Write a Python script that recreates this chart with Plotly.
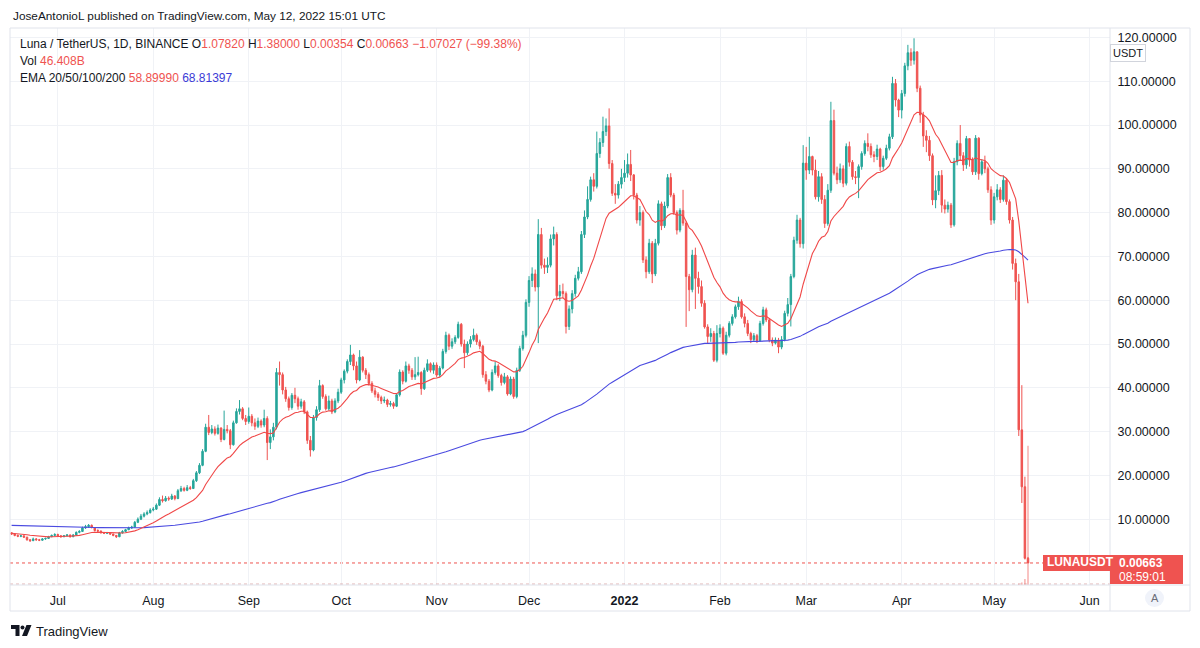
import plotly.graph_objects as go
import pandas as pd

# ---------------- DATA ----------------
start_date = "2021-06-16"
end_date = "2022-05-12"
first_open = 6.9

close_jun = [6.6, 6.3, 6.1, 6.2, 5.9, 5.3, 5.1, 5.5, 5.3, 5.2, 5.5, 5.6, 6.0, 6.3, 6.5]
high_jun = [7.0, 6.8, 6.5, 6.4, 6.3, 6.0, 5.5, 5.8, 5.7, 5.5, 5.7, 5.8, 6.2, 6.5, 6.8]
low_jun = [6.4, 6.1, 5.9, 5.9, 5.7, 5.1, 4.8, 5.0, 5.1, 5.0, 5.1, 5.3, 5.5, 5.9, 6.1]

close_jul = [6.2, 6.0, 6.2, 6.4, 6.0, 6.4, 7.0, 7.2, 8.0, 8.3, 8.6, 8.1, 7.4, 7.3, 6.9, 6.8,
             6.9, 6.6, 6.3, 6.0, 6.9, 7.2, 7.6, 8.0, 8.2, 9.3, 10.0, 10.7, 11.2, 11.5, 12.1]
high_jul = [6.7, 6.4, 6.4, 6.6, 6.5, 6.6, 7.2, 7.5, 8.3, 8.7, 8.9, 8.8, 8.2, 7.7, 7.4, 7.1,
            7.1, 7.0, 6.7, 6.4, 7.1, 7.5, 7.8, 8.3, 8.5, 9.6, 10.4, 11.2, 11.6, 12.0, 12.5]
low_jul = [6.0, 5.8, 5.9, 6.1, 5.8, 5.9, 6.3, 6.8, 7.1, 7.8, 8.0, 7.9, 7.2, 7.0, 6.7, 6.6,
           6.6, 6.4, 6.1, 5.7, 5.9, 6.7, 7.0, 7.5, 7.8, 8.1, 9.1, 9.8, 10.4, 10.9, 11.3]

close_aug = [12.3, 13.2, 14.5, 14.2, 14.8, 14.6, 15.3, 14.7, 16.5, 17.0, 16.6, 17.2, 17.0, 18.8,
             20.6, 22.3, 25.5, 31.0, 29.8, 30.6, 29.6, 30.8, 28.2, 30.5, 30.2, 27.0, 32.0, 34.6,
             35.2, 33.0, 32.3]
high_aug = [12.8, 13.6, 15.0, 15.4, 15.3, 15.2, 15.8, 15.5, 16.9, 17.6, 17.4, 17.8, 17.6, 19.2,
            21.0, 22.8, 26.0, 31.8, 33.8, 31.5, 31.2, 31.6, 31.0, 34.8, 31.5, 30.6, 32.5, 35.3,
            37.2, 35.6, 33.8]
low_aug = [11.8, 12.1, 13.0, 13.8, 14.0, 14.2, 14.4, 14.3, 14.6, 16.2, 16.3, 16.4, 16.7, 16.9,
           18.5, 20.3, 22.1, 25.3, 29.2, 29.4, 29.1, 29.3, 27.6, 28.0, 29.6, 26.0, 26.8, 31.8,
           33.9, 32.6, 31.5]

close_sep = [33.5, 32.0, 31.2, 32.4, 31.5, 33.0, 27.5, 28.8, 31.0, 43.5, 43.0, 39.5, 37.5, 35.5,
             38.3, 37.5, 35.8, 36.8, 34.5, 28.0, 25.8, 33.2, 35.0, 40.5, 38.0, 35.2, 37.0, 34.5,
             37.0, 39.0]
high_sep = [35.5, 34.0, 33.0, 33.2, 32.8, 35.0, 33.5, 30.5, 32.0, 44.5, 46.0, 43.5, 40.2, 38.0,
            38.8, 40.0, 38.0, 37.5, 37.2, 34.8, 29.0, 33.8, 35.8, 41.8, 40.8, 38.5, 38.2, 37.5,
            37.6, 39.8]
low_sep = [31.8, 31.2, 30.4, 30.8, 30.9, 31.0, 23.5, 26.0, 28.0, 30.5, 40.5, 38.5, 36.8, 34.8,
           35.0, 36.5, 35.0, 35.2, 34.0, 27.2, 24.3, 25.5, 32.5, 34.5, 37.5, 34.8, 34.8, 34.0,
           34.2, 36.5]

close_oct = [41.8, 43.8, 46.0, 47.5, 45.0, 41.8, 47.0, 44.0, 43.0, 41.0, 39.3, 38.5, 37.8, 37.0,
             37.2, 36.2, 36.4, 35.8, 38.4, 43.6, 41.5, 45.0, 44.0, 42.5, 43.0, 43.5, 39.8, 44.0,
             45.5, 44.0, 45.2]
high_oct = [42.3, 44.2, 46.5, 49.8, 47.8, 46.0, 48.6, 47.2, 44.5, 43.5, 41.5, 40.0, 39.0, 38.2,
            38.0, 37.5, 37.0, 36.8, 38.8, 44.2, 44.0, 46.0, 45.5, 44.5, 47.0, 47.1, 43.8, 44.6,
            46.5, 45.8, 45.8]
low_oct = [38.6, 41.0, 43.3, 45.2, 44.0, 41.0, 41.5, 43.5, 42.0, 40.5, 38.8, 37.8, 37.0, 36.3,
           36.5, 35.6, 35.7, 35.2, 35.6, 38.0, 40.8, 41.2, 43.2, 41.8, 41.8, 42.6, 38.4, 39.5,
           43.6, 43.5, 43.2]

close_nov = [42.9, 44.5, 48.3, 52.0, 49.5, 50.5, 51.5, 54.5, 50.0, 48.0, 50.0, 51.0, 52.0, 50.5,
             49.5, 43.0, 41.5, 39.5, 43.5, 45.0, 42.8, 41.2, 42.5, 38.6, 42.0, 38.0, 44.0, 49.0,
             52.0, 59.5]
high_nov = [45.8, 45.0, 48.9, 52.8, 52.4, 51.3, 52.0, 55.1, 54.8, 51.0, 50.6, 51.8, 53.5, 52.4,
            51.0, 49.8, 43.8, 42.0, 44.2, 46.0, 45.4, 43.2, 43.4, 42.9, 42.6, 42.5, 44.6, 49.6,
            53.0, 60.2]
low_nov = [42.4, 42.5, 44.2, 47.8, 48.6, 48.9, 50.0, 51.2, 49.4, 44.5, 47.5, 49.2, 50.6, 49.8,
           48.8, 42.3, 40.8, 39.0, 39.2, 43.0, 42.3, 40.5, 40.8, 38.2, 38.3, 37.5, 37.6, 43.6,
           48.5, 51.5]

close_dec = [64.5, 66.0, 63.0, 75.0, 68.0, 67.5, 68.0, 74.0, 75.0, 61.0, 62.0, 61.5, 54.0, 58.0,
             61.5, 65.0, 66.5, 75.0, 79.0, 83.0, 87.5, 86.0, 93.5, 96.0, 98.5, 99.8, 91.2, 84.4,
             84.0, 86.5, 88.0]
high_dec = [65.5, 67.5, 67.0, 78.5, 76.5, 69.5, 69.8, 75.0, 76.8, 75.5, 63.5, 63.8, 62.0, 58.8,
            62.3, 65.8, 67.6, 75.8, 80.5, 86.0, 88.2, 89.0, 98.5, 97.0, 101.9, 101.5, 103.8, 92.0,
            86.5, 87.2, 90.0]
low_dec = [58.5, 63.0, 62.0, 50.2, 67.2, 66.0, 66.2, 67.5, 72.5, 60.0, 59.8, 60.5, 52.4, 53.2,
           57.0, 60.8, 64.5, 66.0, 74.2, 78.5, 82.5, 84.8, 85.5, 92.5, 95.0, 97.5, 90.0, 83.8,
           82.0, 83.2, 85.5]

close_jan = [89.0, 91.0, 88.6, 84.0, 78.3, 80.0, 69.2, 66.5, 73.0, 66.0, 73.0, 82.0, 77.0, 81.5,
             88.0, 84.0, 80.0, 76.0, 80.5, 77.6, 65.4, 62.4, 70.3, 65.0, 63.1, 59.3, 53.9, 51.7,
             52.4, 46.3, 52.4]
high_jan = [92.0, 93.5, 94.3, 88.8, 84.5, 81.5, 80.5, 70.0, 74.0, 73.5, 74.0, 82.8, 82.5, 82.5,
            88.8, 89.0, 84.5, 80.5, 81.0, 85.2, 78.0, 66.0, 71.5, 72.0, 66.5, 64.5, 60.0, 54.5,
            53.6, 53.0, 54.3]
low_jan = [87.0, 88.0, 87.2, 83.0, 77.5, 77.0, 68.5, 65.0, 66.0, 63.9, 65.5, 72.5, 76.0, 76.5,
           81.0, 83.5, 79.5, 75.0, 75.5, 77.0, 53.9, 57.5, 61.8, 58.0, 61.5, 58.5, 53.5, 50.0,
           50.5, 45.9, 45.8]

close_feb = [53.6, 47.9, 52.0, 54.7, 56.2, 58.5, 59.7, 56.2, 54.7, 52.4, 51.0, 51.9, 50.8, 54.7,
             57.8, 55.5, 50.9, 50.2, 50.9, 49.3, 51.0, 57.0, 59.0, 65.4, 73.7, 78.3, 72.9, 91.3]
high_feb = [54.5, 54.0, 52.8, 55.2, 56.8, 59.0, 60.8, 60.2, 57.0, 55.5, 52.8, 52.5, 52.3, 55.3,
            58.5, 58.3, 55.9, 51.5, 51.5, 51.4, 51.8, 57.6, 60.5, 66.0, 74.5, 79.5, 78.8, 95.4]
low_feb = [51.5, 47.5, 47.4, 51.5, 54.2, 55.8, 57.8, 55.8, 53.8, 51.8, 50.2, 50.5, 50.2, 50.5,
           54.2, 55.0, 50.4, 49.5, 49.9, 47.9, 48.8, 50.6, 56.3, 54.0, 65.0, 72.9, 72.0, 71.8]

close_mar = [89.7, 92.8, 89.7, 83.6, 88.2, 83.0, 77.5, 85.1, 101.0, 89.0, 87.5, 90.0, 86.7, 95.1,
             91.5, 88.2, 88.0, 90.5, 93.5, 95.8, 95.1, 93.2, 92.8, 94.5, 90.5, 92.4, 94.7, 97.3,
             109.5, 105.7, 103.4]
high_mar = [95.0, 97.3, 93.0, 92.1, 89.5, 89.0, 84.0, 86.5, 105.3, 103.5, 90.5, 91.2, 90.8, 95.8,
            96.2, 92.0, 89.5, 91.0, 94.0, 96.5, 98.1, 95.8, 94.0, 95.5, 94.8, 93.0, 95.5, 98.0,
            111.0, 110.5, 106.0]
low_mar = [87.5, 88.8, 88.5, 83.0, 82.5, 82.0, 76.5, 77.0, 84.5, 88.5, 86.5, 86.8, 85.8, 86.2,
           90.5, 87.5, 86.5, 83.3, 89.8, 93.0, 94.0, 92.5, 91.5, 92.0, 89.5, 89.8, 92.0, 94.2,
           96.8, 104.2, 101.8]

close_apr = [107.2, 113.5, 116.5, 114.8, 116.7, 108.4, 102.3, 97.5, 96.5, 93.0, 82.9, 85.0, 88.5,
             81.7, 80.8, 81.7, 77.2, 91.6, 95.8, 93.0, 90.9, 96.9, 92.0, 89.3, 97.0, 88.9, 91.6,
             90.0, 85.2, 78.3]
high_apr = [108.0, 114.2, 118.3, 117.5, 119.8, 116.8, 109.0, 103.0, 98.8, 97.5, 93.5, 88.5, 89.5,
            89.7, 83.0, 82.5, 82.2, 92.5, 96.5, 100.0, 93.8, 97.5, 97.0, 92.6, 97.7, 97.2, 92.2,
            93.0, 90.5, 86.0]
low_apr = [101.5, 106.5, 112.5, 113.5, 113.8, 107.5, 100.5, 95.0, 93.8, 91.8, 81.7, 81.0, 84.0,
           80.0, 79.8, 80.0, 76.5, 76.8, 90.8, 92.0, 89.5, 90.0, 90.5, 88.6, 88.6, 87.5, 88.5,
           89.0, 84.5, 77.2]

close_may = [83.6, 85.2, 83.0, 87.4, 82.5, 78.3, 68.4, 64.2, 30.4, 17.4, 1.0782, 0.00663]
high_may = [84.5, 86.5, 85.8, 88.5, 87.8, 83.0, 79.0, 69.5, 66.0, 40.6, 19.7, 1.38]
low_may = [77.5, 82.8, 82.2, 82.5, 81.8, 77.5, 67.0, 60.0, 29.0, 13.7, 0.8, 0.00354]

# indicator starting values read at the left edge of the chart
ema20_start = 6.8
ema200_start = 8.6

# volume (billions LUNA) for the last days; earlier bars are near zero height
vol_dates = ["2022-05-09", "2022-05-10", "2022-05-11", "2022-05-12"]
vol_billions = [0.4, 0.8, 2.0, 46.408]

month_ticks = ["2021-07-01", "2021-08-01", "2021-09-01", "2021-10-01", "2021-11-01",
               "2021-12-01", "2022-01-01", "2022-02-01", "2022-03-01", "2022-04-01",
               "2022-05-01", "2022-06-01"]
month_labels = ["Jul", "Aug", "Sep", "Oct", "Nov", "Dec", "<b>2022</b>", "Feb", "Mar", "Apr",
                "May", "Jun"]
price_ticks = [10, 20, 30, 40, 50, 60, 70, 80, 90, 100, 110, 120]

# ---------------- assemble ----------------
closes = (close_jun + close_jul + close_aug + close_sep + close_oct + close_nov + close_dec +
          close_jan + close_feb + close_mar + close_apr + close_may)
highs = (high_jun + high_jul + high_aug + high_sep + high_oct + high_nov + high_dec +
         high_jan + high_feb + high_mar + high_apr + high_may)
lows = (low_jun + low_jul + low_aug + low_sep + low_oct + low_nov + low_dec +
        low_jan + low_feb + low_mar + low_apr + low_may)
dates = pd.date_range(start_date, end_date, freq="D")
opens = [first_open] + closes[:-1]   # daily crypto candles open at prior close


def ema(values, start, n):
    a = 2.0 / (n + 1)
    out = [start]
    for v in values[1:]:
        out.append(a * v + (1 - a) * out[-1])
    return out


ema20 = ema(closes, ema20_start, 20)
ema200 = ema(closes, ema200_start, 200)

# ---------------- layout geometry (pixels) ----------------
W, H = 1200, 648
PL, PR, PT, PB = 10, 1110, 28, 585
JUL1_PX, PX_PER_DAY = 57.8, 3.08
PX_PER_UNIT, ZERO_PX = 4.38, 563.0


def fx(px):
    return (px - PL) / (PR - PL)


def fy(py):
    return (PB - py) / (PB - PT)


jul1 = pd.Timestamp("2021-07-01")
x_lo = jul1 + pd.Timedelta(days=(PL - JUL1_PX) / PX_PER_DAY)
x_hi = jul1 + pd.Timedelta(days=(PR - JUL1_PX) / PX_PER_DAY)
y_hi = (ZERO_PX - PT) / PX_PER_UNIT
y_lo = (ZERO_PX - PB) / PX_PER_UNIT

FONT = "Liberation Sans"
TXT = "#131722"
RED = "#ef5350"
GREEN = "#26a69a"
BLUE = "#4a4ae0"
GRID = "#f0f2f6"
BORDER = "#e0e3eb"

fig = go.Figure()

fig.add_trace(go.Bar(
    x=vol_dates, y=vol_billions, yaxis="y2",
    marker=dict(color="rgba(239,83,80,0.5)", line=dict(width=0)),
    width=86400000 * 0.45, hoverinfo="skip", showlegend=False))

fig.add_trace(go.Scatter(x=dates, y=ema200, mode="lines",
                         line=dict(color=BLUE, width=1.1), hoverinfo="skip", showlegend=False))
fig.add_trace(go.Scatter(x=dates, y=ema20, mode="lines",
                         line=dict(color="#f04848", width=1.1), hoverinfo="skip", showlegend=False))

fig.add_trace(go.Candlestick(
    x=dates, open=opens, high=highs, low=lows, close=closes,
    increasing=dict(line=dict(color=GREEN, width=1), fillcolor=GREEN),
    decreasing=dict(line=dict(color=RED, width=1), fillcolor=RED),
    whiskerwidth=0, hoverinfo="skip", showlegend=False))

shapes = []
# price line
shapes.append(dict(type="line", xref="paper", yref="y", x0=0, x1=1, y0=closes[-1], y1=closes[-1],
                   line=dict(color=RED, width=1, dash="dot"), layer="below"))
# volume baseline dots
shapes.append(dict(type="line", xref="paper", yref="paper", x0=0, x1=1, y0=fy(584), y1=fy(584),
                   line=dict(color="rgba(200,120,120,0.55)", width=1, dash="dot")))
# frame
shapes.append(dict(type="rect", xref="paper", yref="paper", x0=fx(10), x1=fx(1190),
                   y0=fy(611), y1=fy(PT), line=dict(color=BORDER, width=1)))
shapes.append(dict(type="line", xref="paper", yref="paper", x0=fx(PR), x1=fx(PR),
                   y0=fy(611), y1=fy(PT), line=dict(color=BORDER, width=1)))
shapes.append(dict(type="line", xref="paper", yref="paper", x0=fx(10), x1=fx(1190),
                   y0=fy(PB), y1=fy(PB), line=dict(color=BORDER, width=1)))
# last price labels
shapes.append(dict(type="rect", xref="paper", yref="paper", x0=fx(1043), x1=fx(1110),
                   y0=fy(571), y1=fy(555), fillcolor=RED, line=dict(width=0), layer="above"))
shapes.append(dict(type="rect", xref="paper", yref="paper", x0=fx(1110), x1=fx(1183),
                   y0=fy(584), y1=fy(555), fillcolor=RED, line=dict(width=0), layer="above"))
# auto-scale button
shapes.append(dict(type="circle", xref="paper", yref="paper", x0=fx(1145), x1=fx(1164),
                   y0=fy(607), y1=fy(589), fillcolor="#f0f3fa", line=dict(width=0)))
# TradingView logo mark
shapes.append(dict(type="path", xref="paper", yref="paper",
                   path=("M {a},{b} L {c},{b} L {c},{d} L {e},{d} L {e},{f} L {a},{f} Z").format(
                       a=fx(11), b=fy(625), c=fx(19.5), d=fy(636), e=fx(15.5), f=fy(629)),
                   fillcolor=TXT, line=dict(width=0)))
shapes.append(dict(type="circle", xref="paper", yref="paper", x0=fx(20.5), x1=fx(24.5),
                   y0=fy(629.5), y1=fy(625.5), fillcolor=TXT, line=dict(width=0)))
shapes.append(dict(type="path", xref="paper", yref="paper",
                   path="M {0},{1} L {2},{1} L {3},{4} L {5},{4} Z".format(
                       fx(26.5), fy(625), fx(31.5), fx(27), fy(636), fx(22)),
                   fillcolor=TXT, line=dict(width=0)))

ann = []


def txt(x, y, s, size=12, color=TXT, xanchor="left", **kw):
    ann.append(dict(x=fx(x), y=fy(y), xref="paper", yref="paper", text=s, showarrow=False,
                    xanchor=xanchor, yanchor="middle",
                    font=dict(family=FONT, size=size, color=color), **kw))


def red(s):
    return '<span style="color:%s">%s</span>' % (RED, s)


txt(11, 15.5, "JoseAntonioL published on TradingView.com, May 12, 2022 15:01 UTC", size=11.8)
txt(18, 44, "Luna / TetherUS, 1D, BINANCE O" + red("1.07820") + " H" + red("1.38000") +
    " L" + red("0.00354") + " C" + red("0.00663") + " " + red("\u22121.07027 (\u221299.38%)"))
txt(18, 61, "Vol " + red("46.408B"))
txt(18, 78, "EMA 20/50/100/200 " + red("58.89990") + ' <span style="color:#3b3bd6">68.81397</span>')
txt(1116, 562, "<b>LUNAUSDT</b>", size=12, color="white", xanchor="right")
txt(1117, 562.5, "<b>0.00663</b>", size=12, color="white")
txt(1117, 576.5, "08:59:01", size=12, color="white")
txt(1155, 598, "A", size=11, color="#6a6d78", xanchor="center")
txt(34, 631, "TradingView", size=13)
ann.append(dict(x=fx(1128), y=fy(53), xref="paper", yref="paper", text="USDT", showarrow=False,
                xanchor="center", yanchor="middle", bgcolor="white", bordercolor="#d1d4dc",
                borderwidth=1, borderpad=2, font=dict(family=FONT, size=11, color=TXT)))

fig.update_layout(
    width=W, height=H,
    margin=dict(l=PL, r=W - PR, t=PT, b=H - PB),
    paper_bgcolor="white", plot_bgcolor="white",
    font=dict(family=FONT, size=12, color=TXT),
    showlegend=False, hovermode=False,
    xaxis=dict(type="date", range=[x_lo, x_hi], tickvals=month_ticks, ticktext=month_labels,
               showgrid=True, gridcolor=GRID, gridwidth=1, zeroline=False, showline=False,
               ticks="outside", ticklen=4, tickcolor="rgba(0,0,0,0)",
               tickfont=dict(family=FONT, size=12.5, color=TXT),
               rangeslider=dict(visible=False), fixedrange=True),
    yaxis=dict(range=[y_lo, y_hi], side="right", tickvals=price_ticks, tickformat=".5f",
               showgrid=True, gridcolor=GRID, gridwidth=1, zeroline=False, showline=False,
               ticks="outside", ticklen=4, tickcolor="rgba(0,0,0,0)",
               tickfont=dict(family=FONT, size=12.5, color=TXT), fixedrange=True),
    yaxis2=dict(overlaying="y", range=[0, vol_billions[-1] / 0.25], visible=False,
                fixedrange=True),
    shapes=shapes, annotations=ann,
)

fig.write_html("out.html")
